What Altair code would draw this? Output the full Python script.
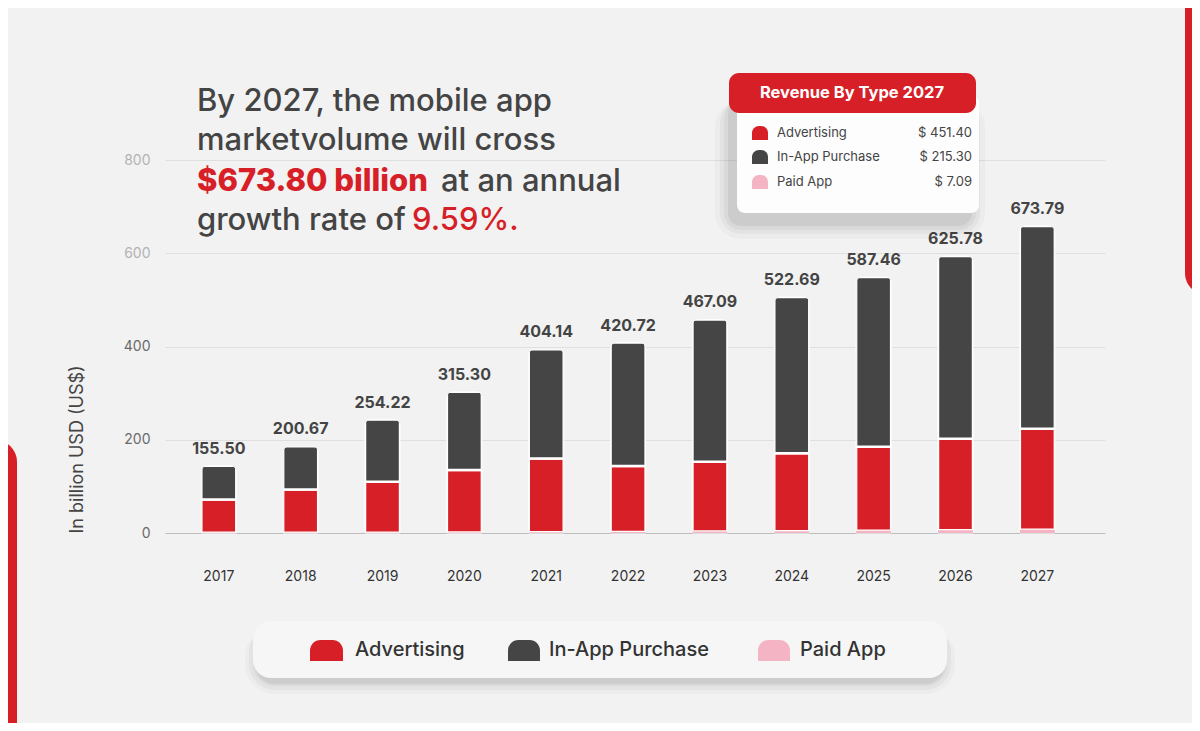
import altair as alt
import pandas as pd

# ---------------- data ----------------
years = ["2017", "2018", "2019", "2020", "2021", "2022", "2023", "2024", "2025", "2026", "2027"]
paid_app = [0.3, 0.5, 0.7, 1.0, 1.5, 2.0, 3.0, 4.0, 5.0, 6.0, 7.0]
advertising = [71.7, 93.0, 109.0, 134.0, 158.5, 141.5, 150.0, 167.0, 180.0, 196.0, 216.5]
in_app = [72.0, 92.4, 133.6, 168.0, 234.0, 265.0, 305.0, 335.0, 364.0, 392.0, 435.0]
total_labels = ["155.50", "200.67", "254.22", "315.30", "404.14", "420.72",
                "467.09", "522.69", "587.46", "625.78", "673.79"]
series_names = ["Paid App", "Advertising", "In-App Purchase"]
series_colors = ["#f4b4c3", "#d71f27", "#454545"]
y_ticks = [0, 200, 400, 600, 800]
legend_2027_names = ["Advertising", "In-App Purchase", "Paid App"]
legend_2027_values = ["$ 451.40", "$ 215.30", "$ 7.09"]

rows = []
for i, yr in enumerate(years):
    for k, (name, vals) in enumerate(zip(series_names, [paid_app, advertising, in_app])):
        rows.append({"year": yr, "series": name, "value": vals[i], "ord": k,
                     "sw": 0 if name == "Paid App" else 2.5})
df = pd.DataFrame(rows)
paid_df = pd.DataFrame({"year": years, "paid": paid_app})
tot = pd.DataFrame({"year": years,
                    "total": [p + a + b for p, a, b in zip(paid_app, advertising, in_app)],
                    "label": total_labels})

FONT = "Inter"
DARK = "#444444"
RED = "#d71f27"

xscale = alt.Scale(paddingInner=0.572, paddingOuter=0.528, align=0.42)
yscale = alt.Scale(domain=[0, 800])

bars = alt.Chart(df).mark_bar(
    cornerRadiusTopLeft=5, cornerRadiusTopRight=5, stroke="white"
).encode(
    x=alt.X("year:N", scale=xscale, sort=years,
            axis=alt.Axis(title=None, labelAngle=0, ticks=False, domain=True,
                          domainColor="#bdbdbd", domainWidth=1.2, labelPadding=36,
                          labelFontSize=14, labelColor="#333333", labelFont=FONT)),
    y=alt.Y("value:Q", stack="zero", scale=yscale,
            axis=alt.Axis(title="In billion USD (US$)", values=y_ticks, ticks=False,
                          domain=False, grid=True, gridColor="#dfdfdf",
                          labelPadding=15, labelFontSize=14, labelFont=FONT,
                          labelColor={"expr": "datum.value >= 600 ? '#b3b3b3' : '#6a6a6a'"},
                          titleFont=FONT, titleFontSize=18, titleFontWeight="normal",
                          titleColor=DARK, titleAnchor="start", titlePadding=37)),
    color=alt.Color("series:N", scale=alt.Scale(domain=series_names, range=series_colors),
                    legend=None),
    order=alt.Order("ord:Q"),
    strokeWidth=alt.StrokeWidth("sw:Q", scale=None),
)

paid_overlay = alt.Chart(paid_df).mark_bar(color="#f4b4c3").encode(
    x=alt.X("year:N", scale=xscale, sort=years),
    y=alt.Y("paid:Q", scale=yscale),
)

labels = alt.Chart(tot).mark_text(
    dy=-17, font=FONT, fontSize=16, fontWeight="bold", color=DARK
).encode(
    x=alt.X("year:N", scale=xscale, sort=years),
    y=alt.Y("total:Q", scale=yscale),
    text="label:N",
)


def one(text=""):
    return alt.Chart(pd.DataFrame({"t": [text]}))


def box(x, x2, y, y2, color, radius=0, opacity=1.0, top_only=False):
    if top_only:
        m = one().mark_rect(color=color, opacity=opacity,
                            cornerRadiusTopLeft=radius, cornerRadiusTopRight=radius)
    else:
        m = one().mark_rect(color=color, opacity=opacity, cornerRadius=radius)
    return m.encode(x=alt.value(x), x2=alt.value(x2), y=alt.value(y), y2=alt.value(y2))


def txt(text, x, y, size, color, weight="normal", align="left"):
    return one(text).mark_text(
        font=FONT, fontSize=size, color=color, fontWeight=weight, align=align,
        baseline="middle"
    ).encode(x=alt.value(x), y=alt.value(y), text="t:N")


layers = []
# edge decorations
layers.append(box(-200, -148, 280, 620, RED, radius=22))
layers.append(box(1020, 1080, -200, 135, RED, radius=22))

# top-right legend panel with soft shadow
for d, op in [(16, 0.025), (11, 0.035), (7, 0.045), (3, 0.06)]:
    layers.append(box(572 - d - 6, 814 + d - 10, -65 + 6, 53 + d + 10, "#000000", radius=10 + d, opacity=op))
layers.append(box(572, 814, -65, 53, "#fdfdfd", radius=8))
layers.append(box(564, 811, -87, -47, RED, radius=10))
layers.append(txt("Revenue By Type 2027", 687, -67, 16.5, "white", 700, "center"))
icon_y = [(-34, -20), (-10, 4), (15, 29)]
icon_cols = [RED, "#454545", "#f4b4c3"]
text_y = [-27, -3, 22]
for (a, b), c, ty, nm, vl in zip(icon_y, icon_cols, text_y, legend_2027_names, legend_2027_values):
    layers.append(box(587, 603, a, b, c, radius=8, top_only=True))
    layers.append(txt(nm, 612, ty, 13, DARK))
    layers.append(txt(vl, 807, ty, 13, DARK, align="right"))

# headline
layers.append(txt("By 2027, the mobile app", 32, -58, 31, DARK, 500))
layers.append(txt("marketvolume will cross", 32, -19, 31, DARK, 500))
layers.append(txt("$673.80 billion", 32, 22, 31, RED, 800))
layers.append(txt("at an annual", 276, 22, 31, DARK, 500))
layers.append(txt("growth rate of", 32, 61, 31, DARK, 500))
layers.append(txt("9.59%.", 247, 61, 31, RED, 500))

# bottom legend box with shadow
for d, op in [(12, 0.025), (8, 0.035), (4, 0.045), (2, 0.05)]:
    layers.append(box(88 - d + 4, 782 + d - 4, 461 + 6, 518 + d + 4, "#000000", radius=18 + d, opacity=op))
layers.append(box(88, 782, 461, 518, "#f6f6f6", radius=18))
bl_x = [(145, 178), (343, 375), (593, 625)]
bl_tx = [190, 384, 635]
for (a, b), c, tx, nm in zip(bl_x, icon_cols, bl_tx, legend_2027_names):
    layers.append(box(a, b, 480, 501, c, radius=12, top_only=True))
    layers.append(txt(nm, tx, 490, 20, "#333333", 500))

chart = alt.layer(
    *layers[:2], bars, paid_overlay, labels, *layers[2:]
).properties(
    width=940, height=373,
    padding={"left": 157, "top": 152, "right": 87, "bottom": 190},
    autosize=alt.AutoSizeParams(type="none"),
).configure(background="#f2f2f2").configure_view(stroke=None)

chart.save("out.html", embed_options={"renderer": "svg", "actions": False})
